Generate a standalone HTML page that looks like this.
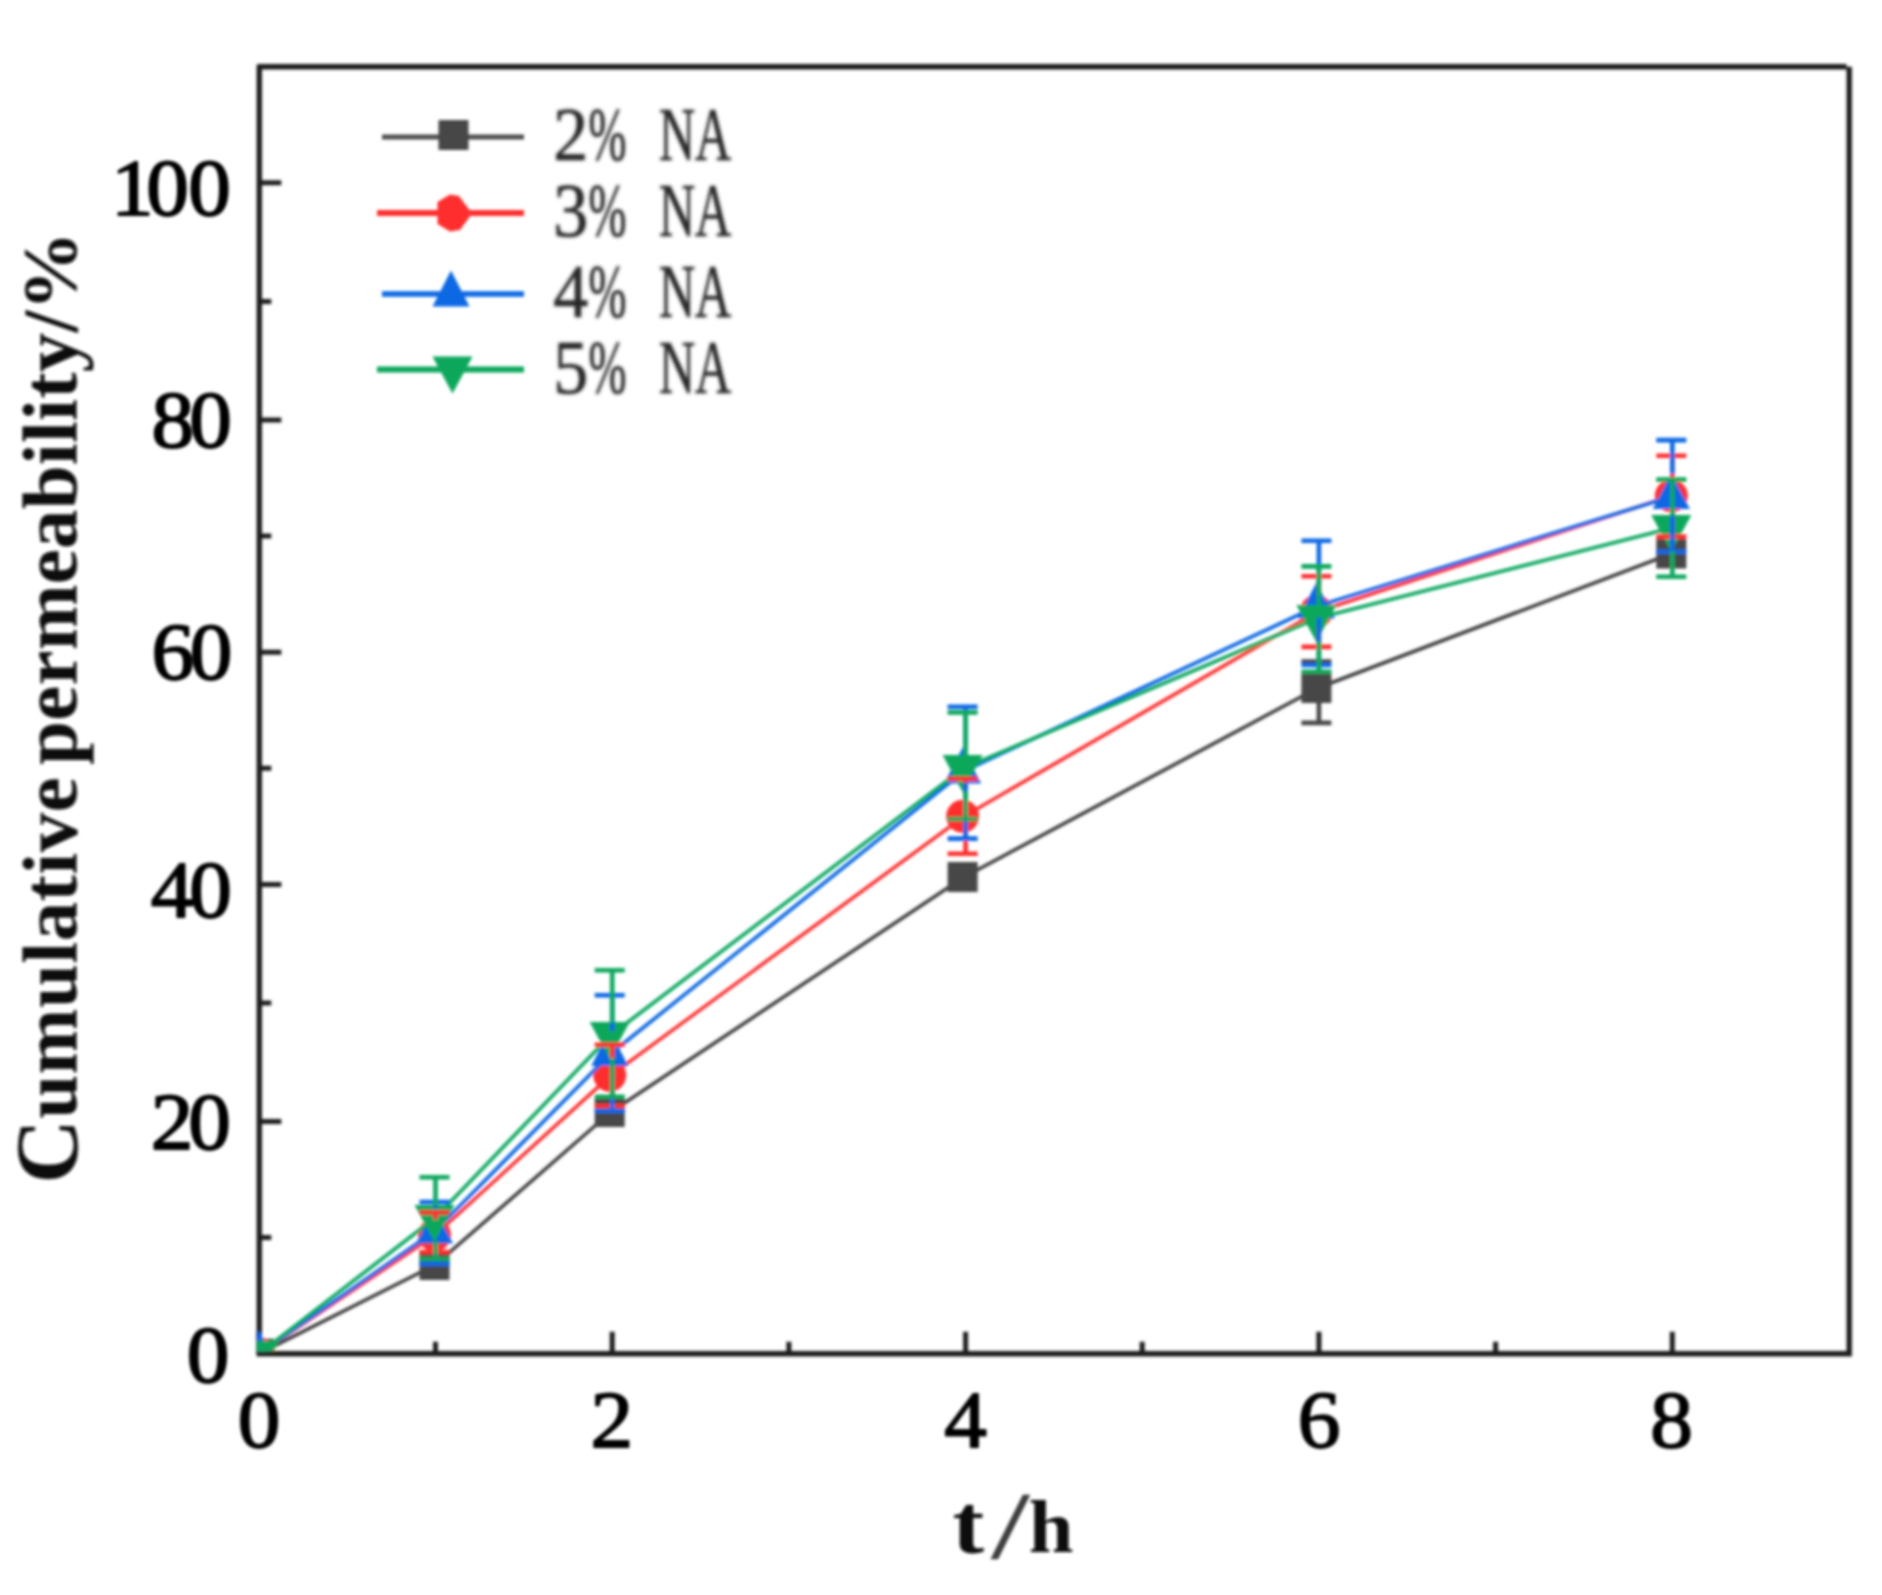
<!DOCTYPE html>
<html lang="en"><head><meta charset="utf-8"><title>Cumulative permeability</title>
<style>html,body{margin:0;padding:0;background:#fff}svg{display:block}.tk{font-family:"Liberation Serif",serif;fill:#050505;stroke:#050505;stroke-width:1.8px;stroke-linejoin:round}.ti{font-family:"Liberation Serif",serif;font-weight:bold;fill:#0c0c0c}.sl{font-weight:normal;fill:#3c3c3c;stroke:#3c3c3c;stroke-width:0.5px}.lg{font-family:"Liberation Serif",serif;fill:#262626;stroke:#262626;stroke-width:0.7px}</style></head><body>
<svg width="1882" height="1595" viewBox="0 0 1882 1595">
<defs><clipPath id="plot"><rect x="256.6" y="63.6" width="1595.2" height="1287.6"/></clipPath>
<filter id="soft" x="-5%" y="-5%" width="110%" height="110%"><feGaussianBlur stdDeviation="1.35"/></filter><filter id="soft2" x="-20%" y="-20%" width="140%" height="140%"><feGaussianBlur stdDeviation="1.1"/></filter></defs>
<rect width="1882" height="1595" fill="#fff"/>
<g filter="url(#soft)">
<path d="M259.3 64.7V1356.5M256.6 1353.8H1851.7M1849.2 1356.5V66.8M257.6 66.8H1846.5" fill="none" stroke="#1f1f1f" stroke-width="5.4"/>
<path d="M259.3 1353.5h22M259.3 1237.5h12M259.3 1121.4h22M259.3 1002.9h12M259.3 884.4h22M259.3 768.3h12M259.3 652.2h22M259.3 536.1h12M259.3 420.0h22M259.3 301.4h12M259.3 182.8h22M258.8 1353.8v-22M435.5 1353.8v-12M612.2 1353.8v-22M788.9 1353.8v-12M965.6 1353.8v-22M1142.2 1353.8v-12M1318.9 1353.8v-22M1495.6 1353.8v-12M1672.3 1353.8v-22" stroke="#1f1f1f" stroke-width="5.0" fill="none"/>
<g clip-path="url(#plot)">
<polyline points="258.8,1353.8 435.0,1265.0 610.9,1112.0 964.1,877.0 1317.7,688.0 1671.8,553.5" fill="none" stroke="#404040" stroke-width="3.6" stroke-linejoin="round"/>
<rect x="243.8" y="1338.8" width="30" height="30" fill="#474747"/>
<rect x="419.5" y="1250.0" width="30" height="30" fill="#474747"/>
<rect x="594.7" y="1097.0" width="30" height="30" fill="#474747"/>
<rect x="947.6" y="862.0" width="30" height="30" fill="#474747"/>
<rect x="1301.4" y="673.0" width="30" height="30" fill="#474747"/>
<rect x="1656.3" y="538.5" width="30" height="30" fill="#474747"/>
<polyline points="258.8,1353.8 435.0,1235.0 610.9,1075.3 964.1,816.3 1317.7,611.5 1671.8,495.8" fill="none" stroke="#ff3030" stroke-width="3.6" stroke-linejoin="round"/>
<circle cx="258.8" cy="1353.8" r="16.5" fill="#ff2f2f"/>
<circle cx="434.5" cy="1235.0" r="16.5" fill="#ff2f2f"/>
<circle cx="609.7" cy="1075.3" r="16.5" fill="#ff2f2f"/>
<circle cx="962.6" cy="816.3" r="16.5" fill="#ff2f2f"/>
<circle cx="1316.4" cy="611.5" r="16.5" fill="#ff2f2f"/>
<circle cx="1671.3" cy="495.8" r="16.5" fill="#ff2f2f"/>
<polyline points="258.8,1353.8 435.0,1231.0 610.9,1053.5 964.1,771.0 1317.7,606.0 1671.8,496.5" fill="none" stroke="#0868e4" stroke-width="3.6" stroke-linejoin="round"/>
<polygon points="258.8,1330.3 240.3,1366.3 277.3,1366.3" fill="#0868e4"/>
<polygon points="434.5,1207.5 416.0,1243.5 453.0,1243.5" fill="#0868e4"/>
<polygon points="609.7,1030.0 591.2,1066.0 628.2,1066.0" fill="#0868e4"/>
<polygon points="962.6,747.5 944.1,783.5 981.1,783.5" fill="#0868e4"/>
<polygon points="1316.4,582.5 1297.9,618.5 1334.9,618.5" fill="#0868e4"/>
<polygon points="1671.3,473.0 1652.8,509.0 1689.8,509.0" fill="#0868e4"/>
<polyline points="258.8,1353.8 435.0,1218.0 610.9,1035.0 964.1,768.0 1317.7,618.0 1671.8,528.0" fill="none" stroke="#08a860" stroke-width="3.6" stroke-linejoin="round"/>
<polygon points="258.8,1377.8 238.8,1340.8 278.8,1340.8" fill="#08a75c"/>
<polygon points="434.5,1242.0 414.5,1205.0 454.5,1205.0" fill="#08a75c"/>
<polygon points="609.7,1059.0 589.7,1022.0 629.7,1022.0" fill="#08a75c"/>
<polygon points="962.6,792.0 942.6,755.0 982.6,755.0" fill="#08a75c"/>
<polygon points="1316.4,642.0 1296.4,605.0 1336.4,605.0" fill="#08a75c"/>
<polygon points="1671.3,552.0 1651.3,515.0 1691.3,515.0" fill="#08a75c"/>
</g>
<path d="M1301.4 661.5H1331.4M1301.4 722.9H1331.4M1318.9 661.5V674.0M1318.9 702.0V722.9" stroke="#474747" stroke-width="4.6" fill="none"/>
<path d="M419.5 1212.5H449.5M419.5 1252.0H449.5M435.5 1212.5V1219.5M435.5 1250.5V1252.0" stroke="#ff2f2f" stroke-width="4.6" fill="none"/>
<path d="M594.7 1044.7H624.7M594.7 1106.0H624.7M612.2 1044.7V1059.8M612.2 1090.8V1106.0" stroke="#ff2f2f" stroke-width="4.6" fill="none"/>
<path d="M947.6 778.8H977.6M947.6 853.8H977.6M965.6 778.8V800.8M965.6 831.8V853.8" stroke="#ff2f2f" stroke-width="4.6" fill="none"/>
<path d="M1301.4 576.2H1331.4M1301.4 646.9H1331.4M1318.9 576.2V596.0M1318.9 627.0V646.9" stroke="#ff2f2f" stroke-width="4.6" fill="none"/>
<path d="M1656.3 455.8H1686.3M1656.3 536.6H1686.3M1672.3 455.8V480.3M1672.3 511.3V536.6" stroke="#ff2f2f" stroke-width="4.6" fill="none"/>
<path d="M419.5 1202.0H449.5M419.5 1264.0H449.5M435.5 1202.0V1208.5M435.5 1242.5V1264.0" stroke="#0868e4" stroke-width="4.6" fill="none"/>
<path d="M594.7 995.3H624.7M594.7 1111.0H624.7M612.2 995.3V1031.0M612.2 1065.0V1111.0" stroke="#0868e4" stroke-width="4.6" fill="none"/>
<path d="M947.6 706.7H977.6M947.6 838.6H977.6M965.6 706.7V748.5M965.6 782.5V838.6" stroke="#0868e4" stroke-width="4.6" fill="none"/>
<path d="M1301.4 540.8H1331.4M1301.4 665.0H1331.4M1318.9 540.8V583.5M1318.9 617.5V665.0" stroke="#0868e4" stroke-width="4.6" fill="none"/>
<path d="M1656.3 440.1H1686.3M1656.3 551.7H1686.3M1672.3 440.1V474.0M1672.3 508.0V551.7" stroke="#0868e4" stroke-width="4.6" fill="none"/>
<path d="M419.5 1177.3H449.5M419.5 1259.0H449.5M435.5 1177.3V1206.0M435.5 1241.0V1259.0" stroke="#08a75c" stroke-width="4.6" fill="none"/>
<path d="M594.7 970.3H624.7M594.7 1096.7H624.7M612.2 970.3V1023.0M612.2 1058.0V1096.7" stroke="#08a75c" stroke-width="4.6" fill="none"/>
<path d="M947.6 712.4H977.6M947.6 819.0H977.6M965.6 712.4V756.0M965.6 791.0V819.0" stroke="#08a75c" stroke-width="4.6" fill="none"/>
<path d="M1301.4 566.4H1331.4M1301.4 671.7H1331.4M1318.9 566.4V606.0M1318.9 641.0V671.7" stroke="#08a75c" stroke-width="4.6" fill="none"/>
<path d="M1656.3 479.6H1686.3M1656.3 576.8H1686.3M1672.3 479.6V516.0M1672.3 551.0V576.8" stroke="#08a75c" stroke-width="4.6" fill="none"/>
<text class="tk" transform="scale(1.06 1)" x="124.81 158.02 197.64" y="215.1" font-size="80.5" text-anchor="middle">100</text>
<text class="tk" transform="scale(1.06 1)" x="163.02 198.58" y="447.5" font-size="80.5" text-anchor="middle">80</text>
<text class="tk" transform="scale(1.06 1)" x="163.02 199.06" y="679.4" font-size="80.5" text-anchor="middle">60</text>
<text class="tk" transform="scale(1.06 1)" x="162.45 198.58" y="916.7" font-size="80.5" text-anchor="middle">40</text>
<text class="tk" transform="scale(1.06 1)" x="162.45 197.83" y="1148.8" font-size="80.5" text-anchor="middle">20</text>
<text class="tk" transform="scale(1.06 1)" x="196.32" y="1381.7" font-size="80.5" text-anchor="middle">0</text>
<text class="tk" transform="scale(1.06 1)" x="244.43" y="1447.3" font-size="80.5" text-anchor="middle">0</text>
<text class="tk" transform="scale(1.06 1)" x="577.17" y="1447.3" font-size="80.5" text-anchor="middle">2</text>
<text class="tk" transform="scale(1.06 1)" x="910.85" y="1447.3" font-size="80.5" text-anchor="middle">4</text>
<text class="tk" transform="scale(1.06 1)" x="1244.34" y="1447.3" font-size="80.5" text-anchor="middle">6</text>
<text class="tk" transform="scale(1.06 1)" x="1577.08" y="1447.3" font-size="80.5" text-anchor="middle">8</text>
<text class="ti" transform="translate(76.5 0) rotate(-90)" font-size="79"><tspan x="-1183.5" letter-spacing="0.45"><tspan font-size="89">C</tspan>umulative</tspan> <tspan x="-765" letter-spacing="0.2">permeability/%</tspan></text>
<text class="ti"><tspan x="952.56" y="1552.6" font-size="83.6" textLength="31.67" lengthAdjust="spacingAndGlyphs">t</tspan><tspan x="990.92" y="1557.5" font-size="95.9" textLength="38.75" lengthAdjust="spacingAndGlyphs" class="sl">/</tspan><tspan x="1028.66" y="1552.4" font-size="74.6" textLength="44.68" lengthAdjust="spacingAndGlyphs">h</tspan></text>
<g id="legend">
<line x1="382" y1="137" x2="524" y2="137" stroke="#4d4d4d" stroke-width="5.0"/>
<rect x="438.5" y="120.0" width="30" height="30" fill="#474747"/>
<text class="lg" filter="url(#soft2)" y="160"><tspan x="553.32" font-size="76.0" textLength="34.96" lengthAdjust="spacingAndGlyphs">2</tspan><tspan x="588.51" font-size="76.0" textLength="37.98" lengthAdjust="spacingAndGlyphs">%</tspan> <tspan x="658.89" font-size="76.0" textLength="36.22" lengthAdjust="spacingAndGlyphs">N</tspan><tspan x="694.89" font-size="76.0" textLength="36.22" lengthAdjust="spacingAndGlyphs">A</tspan></text>
<line x1="377" y1="213" x2="524" y2="213" stroke="#ff2f2f" stroke-width="5.8"/>
<polygon points="437.5,202.0 450.0,194.5 459.0,196.0 471.0,212.0 471.0,215.0 460.0,230.0 450.0,231.5 437.5,224.0" fill="#ff2f2f"/>
<text class="lg" filter="url(#soft2)" y="236"><tspan x="553.32" font-size="76.0" textLength="34.96" lengthAdjust="spacingAndGlyphs">3</tspan><tspan x="588.51" font-size="76.0" textLength="37.98" lengthAdjust="spacingAndGlyphs">%</tspan> <tspan x="658.89" font-size="76.0" textLength="36.22" lengthAdjust="spacingAndGlyphs">N</tspan><tspan x="694.89" font-size="76.0" textLength="36.22" lengthAdjust="spacingAndGlyphs">A</tspan></text>
<line x1="382" y1="294" x2="524" y2="294" stroke="#0868e4" stroke-width="5.4"/>
<polygon points="451.0,270.5 432.5,306.5 469.5,306.5" fill="#0868e4"/>
<text class="lg" filter="url(#soft2)" y="317"><tspan x="553.32" font-size="76.0" textLength="34.96" lengthAdjust="spacingAndGlyphs">4</tspan><tspan x="588.51" font-size="76.0" textLength="37.98" lengthAdjust="spacingAndGlyphs">%</tspan> <tspan x="658.89" font-size="76.0" textLength="36.22" lengthAdjust="spacingAndGlyphs">N</tspan><tspan x="694.89" font-size="76.0" textLength="36.22" lengthAdjust="spacingAndGlyphs">A</tspan></text>
<line x1="377" y1="369.5" x2="524" y2="369.5" stroke="#08a75c" stroke-width="5.8"/>
<polygon points="452.5,393.5 432.5,356.5 472.5,356.5" fill="#08a75c"/>
<text class="lg" filter="url(#soft2)" y="392.5"><tspan x="553.32" font-size="76.0" textLength="34.96" lengthAdjust="spacingAndGlyphs">5</tspan><tspan x="588.51" font-size="76.0" textLength="37.98" lengthAdjust="spacingAndGlyphs">%</tspan> <tspan x="658.89" font-size="76.0" textLength="36.22" lengthAdjust="spacingAndGlyphs">N</tspan><tspan x="694.89" font-size="76.0" textLength="36.22" lengthAdjust="spacingAndGlyphs">A</tspan></text>
</g>
</g></svg></body></html>
